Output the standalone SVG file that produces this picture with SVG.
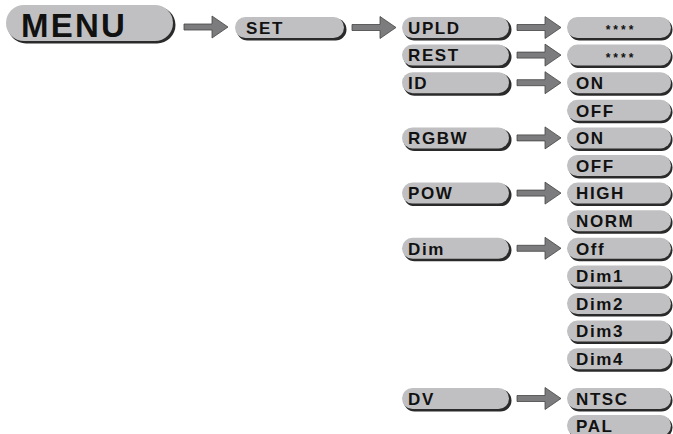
<svg xmlns="http://www.w3.org/2000/svg" width="673" height="434" viewBox="0 0 673 434">
<style>
.sh{fill:#2a2a2a}
.bx{fill:#c0c0c2}
.t{font-family:"Liberation Sans",Arial,sans-serif;font-weight:bold;font-size:17px;letter-spacing:1.6px;fill:#111}
.big{font-size:33px;letter-spacing:2.2px}
.st{font-size:12px;letter-spacing:3px;text-anchor:middle}
.ar{fill:#7c7c7e;stroke:#444;stroke-width:0.8}
</style>
<defs>
<path id="arrow" class="ar" d="M0,-3 H28 V-11 L44,0 L28,11 V3 H0 Z"/>
</defs>
<rect width="673" height="434" fill="#fff"/>
<g id="connectors">
<use href="#arrow" transform="translate(184,27)"/>
<use href="#arrow" transform="translate(352,27.5)"/>
<use href="#arrow" transform="translate(517,27.5)"/>
<use href="#arrow" transform="translate(517,55.1)"/>
<use href="#arrow" transform="translate(517,82.7)"/>
<use href="#arrow" transform="translate(517,137.9)"/>
<use href="#arrow" transform="translate(517,193.1)"/>
<use href="#arrow" transform="translate(517,248.3)"/>
<use href="#arrow" transform="translate(517,398.5)"/>
</g>
<g id="menu"><rect class="sh" x="7.5" y="6.5" width="168" height="37" rx="18.5"/><rect class="bx" x="6" y="5" width="167" height="36" rx="18"/><text class="t big" x="21" y="37">MENU</text></g>
<g id="set"><rect class="sh" x="236.5" y="18.5" width="110" height="22" rx="11"/><rect class="bx" x="235" y="17" width="109" height="21" rx="10.5"/><text class="t" x="246" y="34">SET</text></g>
<g id="upld"><rect class="sh" x="403.5" y="18.5" width="108" height="22" rx="11"/><rect class="bx" x="402" y="17" width="107" height="21" rx="10.5"/><text class="t" x="408" y="33.8">UPLD</text></g>
<g id="rest"><rect class="sh" x="403.5" y="46.1" width="108" height="22" rx="11"/><rect class="bx" x="402" y="44.6" width="107" height="21" rx="10.5"/><text class="t" x="408" y="61.4">REST</text></g>
<g id="id"><rect class="sh" x="403.5" y="73.7" width="108" height="22" rx="11"/><rect class="bx" x="402" y="72.2" width="107" height="21" rx="10.5"/><text class="t" x="408" y="89">ID</text></g>
<g id="rgbw"><rect class="sh" x="403.5" y="128.9" width="108" height="22" rx="11"/><rect class="bx" x="402" y="127.4" width="107" height="21" rx="10.5"/><text class="t" x="408" y="144.2">RGBW</text></g>
<g id="pow"><rect class="sh" x="403.5" y="184.1" width="108" height="22" rx="11"/><rect class="bx" x="402" y="182.6" width="107" height="21" rx="10.5"/><text class="t" x="408" y="199.4">POW</text></g>
<g id="dim"><rect class="sh" x="403.5" y="239.3" width="108" height="22" rx="11"/><rect class="bx" x="402" y="237.8" width="107" height="21" rx="10.5"/><text class="t" x="408" y="254.6">Dim</text></g>
<g id="dv"><rect class="sh" x="403.5" y="389.5" width="108" height="22" rx="11"/><rect class="bx" x="402" y="388" width="107" height="21" rx="10.5"/><text class="t" x="408" y="404.8">DV</text></g>
<g id="upld-val"><rect class="sh" x="568.5" y="18.5" width="104" height="22" rx="11"/><rect class="bx" x="567" y="17" width="104" height="21" rx="10.5"/><text class="t st" x="621" y="34">****</text></g>
<g id="rest-val"><rect class="sh" x="568.5" y="46.1" width="104" height="22" rx="11"/><rect class="bx" x="567" y="44.6" width="104" height="21" rx="10.5"/><text class="t st" x="621" y="61.6">****</text></g>
<g id="id-on"><rect class="sh" x="568.5" y="73.7" width="104" height="22" rx="11"/><rect class="bx" x="567" y="72.2" width="104" height="21" rx="10.5"/><text class="t" x="576" y="89">ON</text></g>
<g id="id-off"><rect class="sh" x="568.5" y="101.3" width="104" height="22" rx="11"/><rect class="bx" x="567" y="99.8" width="104" height="21" rx="10.5"/><text class="t" x="576" y="116.6">OFF</text></g>
<g id="rgbw-on"><rect class="sh" x="568.5" y="128.9" width="104" height="22" rx="11"/><rect class="bx" x="567" y="127.4" width="104" height="21" rx="10.5"/><text class="t" x="576" y="144.2">ON</text></g>
<g id="rgbw-off"><rect class="sh" x="568.5" y="156.5" width="104" height="22" rx="11"/><rect class="bx" x="567" y="155" width="104" height="21" rx="10.5"/><text class="t" x="576" y="171.8">OFF</text></g>
<g id="pow-high"><rect class="sh" x="568.5" y="184.1" width="104" height="22" rx="11"/><rect class="bx" x="567" y="182.6" width="104" height="21" rx="10.5"/><text class="t" x="576" y="199.4">HIGH</text></g>
<g id="pow-norm"><rect class="sh" x="568.5" y="211.7" width="104" height="22" rx="11"/><rect class="bx" x="567" y="210.2" width="104" height="21" rx="10.5"/><text class="t" x="576" y="227">NORM</text></g>
<g id="dim-off"><rect class="sh" x="568.5" y="239.3" width="104" height="22" rx="11"/><rect class="bx" x="567" y="237.8" width="104" height="21" rx="10.5"/><text class="t" x="576" y="254.6">Off</text></g>
<g id="dim1"><rect class="sh" x="568.5" y="266.9" width="104" height="22" rx="11"/><rect class="bx" x="567" y="265.4" width="104" height="21" rx="10.5"/><text class="t" x="576" y="282.2">Dim1</text></g>
<g id="dim2"><rect class="sh" x="568.5" y="294.5" width="104" height="22" rx="11"/><rect class="bx" x="567" y="293" width="104" height="21" rx="10.5"/><text class="t" x="576" y="309.8">Dim2</text></g>
<g id="dim3"><rect class="sh" x="568.5" y="322.1" width="104" height="22" rx="11"/><rect class="bx" x="567" y="320.6" width="104" height="21" rx="10.5"/><text class="t" x="576" y="337.4">Dim3</text></g>
<g id="dim4"><rect class="sh" x="568.5" y="349.7" width="104" height="22" rx="11"/><rect class="bx" x="567" y="348.2" width="104" height="21" rx="10.5"/><text class="t" x="576" y="365">Dim4</text></g>
<g id="dv-ntsc"><rect class="sh" x="568.5" y="389.5" width="104" height="22" rx="11"/><rect class="bx" x="567" y="388" width="104" height="21" rx="10.5"/><text class="t" x="576" y="404.8">NTSC</text></g>
<g id="dv-pal"><rect class="sh" x="568.5" y="416.5" width="104" height="22" rx="11"/><rect class="bx" x="567" y="415" width="104" height="21" rx="10.5"/><text class="t" x="576" y="431.8">PAL</text></g>
</svg>
